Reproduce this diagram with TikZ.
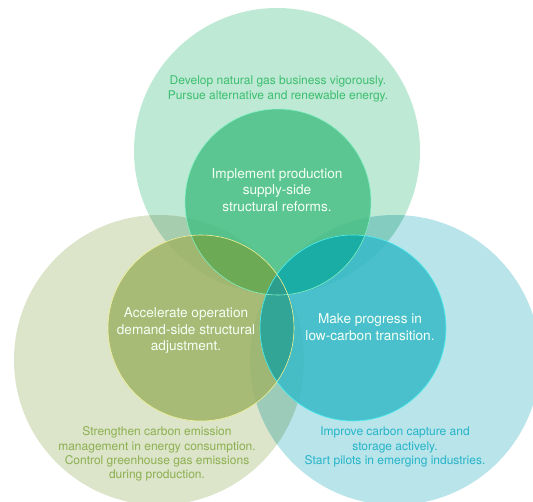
\documentclass[tikz,border=0pt]{standalone}
\usepackage{fontspec}
\setmainfont{TeX Gyre Heros}
\definecolor{bigtop}{RGB}{190,233,213}
\definecolor{bigleft}{RGB}{220,228,201}
\definecolor{bigright}{RGB}{184,228,234}
\definecolor{bigtl}{RGB}{166,205,174}
\definecolor{bigtr}{RGB}{132,204,192}
\definecolor{biglr}{RGB}{156,203,186}
\definecolor{bigall}{RGB}{124,182,165}
\definecolor{intop}{RGB}{74,192,134}
\definecolor{inleft}{RGB}{159,180,104}
\definecolor{inright}{RGB}{55,186,200}
\definecolor{intl}{RGB}{108,170,85}
\definecolor{intr}{RGB}{26,173,165}
\definecolor{inlr}{RGB}{51,165,150}
\definecolor{inall}{RGB}{45,158,142}
\definecolor{linetop}{RGB}{130,240,195}
\definecolor{lineleft}{RGB}{242,242,150}
\definecolor{lineright}{RGB}{80,240,240}
\definecolor{txttop}{RGB}{60,190,110}
\definecolor{txtleft}{RGB}{140,176,80}
\definecolor{txtright}{RGB}{37,180,200}
\tikzset{
  outertext/.style={align=center, inner sep=0pt, font=\fontsize{12}{15}\selectfont},
  innertext/.style={align=center, inner sep=0pt, text=white!96!green, font=\fontsize{13.6}{16.5}\selectfont},
  ring/.style={line width=0.6pt}
}
\begin{document}
\begin{tikzpicture}[x=1pt,y=-1pt]
	\useasboundingbox (0,0) rectangle (533,501);
	\coordinate (T) at (277,151);
	\coordinate (L) at (159,360);
	\coordinate (R) at (395,360);
	\coordinate (t) at (278,202);
	\coordinate (l) at (201,328);
	\coordinate (r) at (353,328);
	\fill[bigtop] (T) circle (143pt);
	\fill[bigleft] (L) circle (145pt);
	\fill[bigright] (R) circle (145pt);
	\begin{scope}
		\clip (T) circle (143pt);
		\fill[bigtl] (L) circle (145pt);
		\fill[bigtr] (R) circle (145pt);
	\end{scope}
	\begin{scope}
		\clip (L) circle (145pt);
		\fill[biglr] (R) circle (145pt);
		\clip (T) circle (143pt);
		\fill[bigall] (R) circle (145pt);
	\end{scope}
	\fill[intop, fill opacity=0.85] (t) circle (93pt);
	\fill[inleft, fill opacity=0.85] (l) circle (93pt);
	\fill[inright, fill opacity=0.85] (r) circle (93pt);
	\begin{scope}
		\clip (t) circle (93pt);
		\fill[intl] (l) circle (93pt);
		\fill[intr] (r) circle (93pt);
	\end{scope}
	\begin{scope}
		\clip (l) circle (93pt);
		\fill[inlr] (r) circle (93pt);
		\clip (t) circle (93pt);
		\fill[inall] (r) circle (93pt);
	\end{scope}
	\draw[ring, linetop] (t) circle (93pt);
	\draw[ring, lineleft] (l) circle (93pt);
	\draw[ring, lineright] (r) circle (93pt);
	\node (gas) at (278,89) [outertext, text=txttop] {Develop natural gas business vigorously.\\Pursue alternative and renewable energy.};
	\node (supply) at (277,190) [innertext] {Implement production\\supply-side\\structural reforms.};
	\node (demand) at (186,331) [innertext] {Accelerate operation\\demand-side structural\\adjustment.};
	\node (lowcarbon) at (370,327) [innertext] {Make progress in\\low-carbon transition.};
	\node (emission) at (157,454) [outertext, text=txtleft, font=\fontsize{12}{14.2}\selectfont] {Strengthen carbon emission\\management in energy consumption.\\Control greenhouse gas emissions\\during production.};
	\node (capture) at (395,447) [outertext, text=txtright, font=\fontsize{12}{14.2}\selectfont] {Improve carbon capture and\\storage actively.\\Start pilots in emerging industries.};
\end{tikzpicture}
\end{document}
